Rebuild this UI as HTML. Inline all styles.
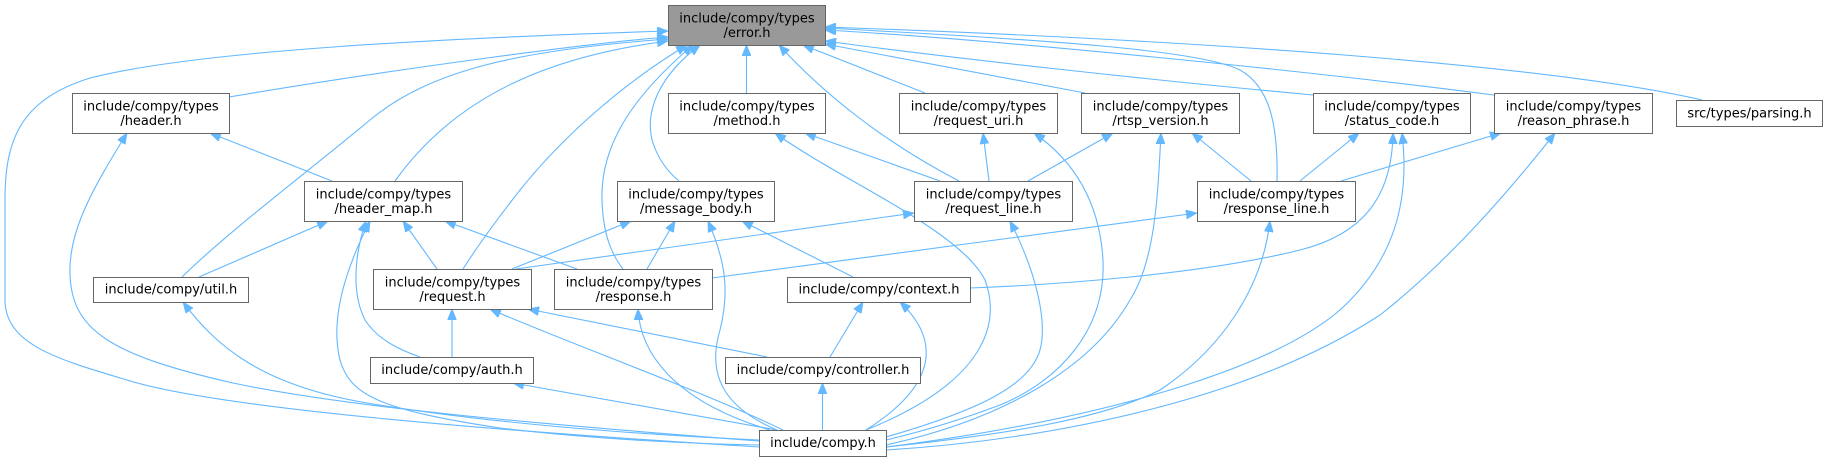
<!DOCTYPE html>
<html><head><meta charset="utf-8">
<style>
html,body{margin:0;padding:0;background:#fff;}
svg{display:block;}
text{font-family:"DejaVu Sans","Liberation Sans",sans-serif;font-size:13px;fill:#000;text-anchor:middle;}
.n{fill:#fff;stroke:#666;stroke-width:1;}
.e{fill:none;stroke:#63b8ff;stroke-width:1.1;marker-start:url(#a);}
</style></head><body>
<svg width="1827" height="461" viewBox="0 0 1827 461" xmlns="http://www.w3.org/2000/svg">
<defs>
<marker id="a" viewBox="0 0 11 9" refX="0" refY="4.5" markerWidth="11" markerHeight="9" markerUnits="userSpaceOnUse" orient="auto">
<path d="M11,0 L0,4.5 L11,9 z" fill="#63b8ff" stroke="#63b8ff" stroke-width="0.8"/>
</marker>
</defs>
<rect width="1827" height="461" fill="#fff"/>

<!-- edges from error.h -->
<path class="e" d="M668,31 C450,38 200,50 90,78 C20,100 5,140 5,200 L5,300 C5,345 60,360 127,380 C200,403 400,425 759,447"/>
<path class="e" d="M668,37 C600,42 400,68 229,97"/>
<path class="e" d="M668,39 C520,50 430,70 370,120 C310,170 230,230 182,277"/>
<path class="e" d="M668,41 C560,55 460,90 395,181"/>
<path class="e" d="M687,45 C620,85 560,140 520,190 C495,222 475,250 463,269"/>
<path class="e" d="M693,45 C640,90 600,140 602,200 C603,235 612,255 623,269"/>
<path class="e" d="M700,45 C660,75 645,110 652,140 C658,160 668,172 679,181"/>
<path class="e" d="M746.5,45 L746.5,93"/>
<path class="e" d="M779,45 C820,90 880,140 959,181"/>
<path class="e" d="M803,45 L925,93"/>
<path class="e" d="M825,44 L1085,93"/>
<path class="e" d="M825,41 C950,58 1150,80 1313,95"/>
<path class="e" d="M825,30 C1000,40 1300,70 1494,95"/>
<path class="e" d="M825,28 C1050,40 1200,50 1240,70 C1272,88 1278,130 1277,181"/>
<path class="e" d="M825,27 C1200,40 1550,65 1702,100"/>

<!-- header.h -->
<path class="e" d="M210,133 L332,181"/>
<path class="e" d="M127,133 C95,185 68,230 70,275 C72,330 110,355 233,383 C350,408 550,425 759,441"/>

<!-- header_map.h -->
<path class="e" d="M328,221 L199,277"/>
<path class="e" d="M403,221 L437,269"/>
<path class="e" d="M445,221 L577,269"/>
<path class="e" d="M366,221 C356,250 350,290 365,320 C378,340 400,350 420,357"/>
<path class="e" d="M370,221 C345,270 330,320 340,360 C350,395 380,410 500,428 C600,440 700,444 759,445"/>

<!-- method.h -->
<path class="e" d="M805,133 L940,181"/>
<path class="e" d="M775,133 C840,180 960,230 985,280 C1000,320 990,380 866,430"/>

<!-- request_uri.h -->
<path class="e" d="M983,133 L989,181"/>
<path class="e" d="M1034,133 C1080,165 1100,210 1103,260 C1106,330 1060,380 1000,405 C960,420 920,432 886,440"/>

<!-- rtsp_version.h -->
<path class="e" d="M1113,133 L1028,181"/>
<path class="e" d="M1192,133 L1251,181"/>
<path class="e" d="M1161,133 C1158,190 1156,260 1130,300 C1090,370 1000,420 886,445"/>

<!-- status_code.h -->
<path class="e" d="M1359,133 L1300,181"/>
<path class="e" d="M1393,133 C1392,200 1360,235 1300,250 C1200,275 1050,285 970,288"/>
<path class="e" d="M1402,133 C1410,200 1395,260 1340,310 C1270,370 1100,420 886,447"/>

<!-- reason_phrase.h -->
<path class="e" d="M1501,133 L1341,181"/>
<path class="e" d="M1555,133 C1510,190 1450,260 1380,315 C1250,400 1050,440 886,450"/>

<!-- message_body.h -->
<path class="e" d="M631,221 L512,269"/>
<path class="e" d="M675,221 L647,269"/>
<path class="e" d="M708,221 C725,260 730,290 720,330 C705,380 730,410 777,430"/>
<path class="e" d="M742,221 L853,277"/>

<!-- request_line.h -->
<path class="e" d="M914,213 L516,269"/>
<path class="e" d="M1010,221 C1035,270 1048,320 1040,350 C1030,385 980,410 886,437"/>

<!-- response_line.h -->
<path class="e" d="M1197,213 L712,278"/>
<path class="e" d="M1270,221 C1262,290 1220,350 1160,390 C1100,420 1000,435 886,447"/>

<!-- request.h -->
<path class="e" d="M452,309 L452,357"/>
<path class="e" d="M528,309 L767,357"/>
<path class="e" d="M490,309 C560,340 700,390 783,430"/>

<!-- response.h -->
<path class="e" d="M638,309 C640,350 670,400 770,430"/>

<!-- context.h -->
<path class="e" d="M863,302 L830,357"/>
<path class="e" d="M900,302 C935,335 945,380 866,430"/>

<!-- controller / auth / util -->
<path class="e" d="M822.5,383 L822.5,430"/>
<path class="e" d="M513,383 L777,430"/>
<path class="e" d="M183,302 C215,345 260,385 367,403 C500,425 650,435 759,440"/>

<!-- nodes -->
<rect x="668.5" y="5.5" width="157" height="40" fill="#999999" stroke="#666" stroke-width="1"/>
<text x="747" y="22.5">include/compy/types</text><text x="747" y="37">/error.h</text>

<rect class="n" x="72.5" y="93.5" width="157" height="40"/>
<text x="151" y="110.5">include/compy/types</text><text x="151" y="125">/header.h</text>

<rect class="n" x="668.5" y="93.5" width="157" height="40"/>
<text x="747" y="110.5">include/compy/types</text><text x="747" y="125">/method.h</text>

<rect class="n" x="899.5" y="93.5" width="158" height="40"/>
<text x="978.5" y="110.5">include/compy/types</text><text x="978.5" y="125">/request_uri.h</text>

<rect class="n" x="1081.5" y="93.5" width="158" height="40"/>
<text x="1160.5" y="110.5">include/compy/types</text><text x="1160.5" y="125">/rtsp_version.h</text>

<rect class="n" x="1313.5" y="93.5" width="157" height="40"/>
<text x="1392" y="110.5">include/compy/types</text><text x="1392" y="125">/status_code.h</text>

<rect class="n" x="1494.5" y="93.5" width="158" height="40"/>
<text x="1573.5" y="110.5">include/compy/types</text><text x="1573.5" y="125">/reason_phrase.h</text>

<rect class="n" x="1676.5" y="100.5" width="146" height="26"/>
<text x="1749.5" y="117.5">src/types/parsing.h</text>

<rect class="n" x="304.5" y="181.5" width="158" height="40"/>
<text x="383.5" y="198.5">include/compy/types</text><text x="383.5" y="213">/header_map.h</text>

<rect class="n" x="617.5" y="181.5" width="157" height="40"/>
<text x="696" y="198.5">include/compy/types</text><text x="696" y="213">/message_body.h</text>

<rect class="n" x="914.5" y="181.5" width="158" height="40"/>
<text x="993.5" y="198.5">include/compy/types</text><text x="993.5" y="213">/request_line.h</text>

<rect class="n" x="1197.5" y="181.5" width="158" height="40"/>
<text x="1276.5" y="198.5">include/compy/types</text><text x="1276.5" y="213">/response_line.h</text>

<rect class="n" x="93.5" y="277.5" width="155" height="25"/>
<text x="171" y="293.5">include/compy/util.h</text>

<rect class="n" x="373.5" y="269.5" width="158" height="40"/>
<text x="452.5" y="286.5">include/compy/types</text><text x="452.5" y="301">/request.h</text>

<rect class="n" x="554.5" y="269.5" width="158" height="40"/>
<text x="633.5" y="286.5">include/compy/types</text><text x="633.5" y="301">/response.h</text>

<rect class="n" x="787.5" y="277.5" width="183" height="25"/>
<text x="879" y="293.5">include/compy/context.h</text>

<rect class="n" x="370.5" y="357.5" width="163" height="26"/>
<text x="452" y="374">include/compy/auth.h</text>

<rect class="n" x="725.5" y="357.5" width="195" height="26"/>
<text x="823" y="374">include/compy/controller.h</text>

<rect class="n" x="759.5" y="430.5" width="127" height="26"/>
<text x="823" y="447">include/compy.h</text>
</svg>
</body></html>
